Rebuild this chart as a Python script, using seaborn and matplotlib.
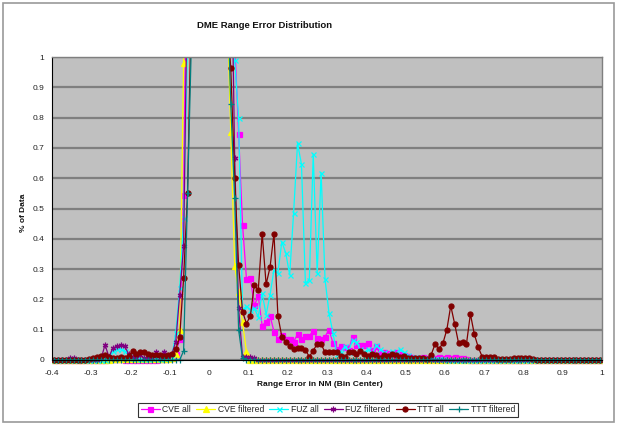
import numpy as np
import pandas as pd
import matplotlib
matplotlib.use("Agg")
import matplotlib.pyplot as plt
from matplotlib.ticker import MultipleLocator, FixedLocator
from matplotlib.transforms import Bbox, TransformedBbox
from matplotlib.patches import Rectangle
import seaborn as sns

# ---------------- data ----------------
# bin centres of the range-error histogram (NM): -0.395 ... 0.995, 0.01 wide
bin_centers = np.round(np.arange(-0.395, 1.0, 0.01), 3)

cve_all = [
    0, 0, 0, 0, 0, 0, 0, 0, 0, 0,
    0, 0, 0, 0, 0.003, 0.003, 0.003, 0.003, 0, 0,
    0, 0, 0, 0, 0, 0, 0, 0.003, 0.003, 0.005,
    0.008, 0.02, 0.07, 0.545, 1.6, 6.0, 12.0, 18.0, 22.0, 24.0,
    22.0, 17.0, 11.0, 6.5, 3.5, 2.2, 1.05, 0.745, 0.447, 0.268,
    0.27, 0.18, 0.21, 0.113, 0.127, 0.146, 0.094, 0.07, 0.083, 0.07,
    0.07, 0.06, 0.085, 0.068, 0.08, 0.08, 0.096, 0.073, 0.07, 0.077,
    0.1, 0.057, 0.037, 0.045, 0.043, 0.033, 0.077, 0.05, 0.05, 0.05,
    0.055, 0.033, 0.045, 0.022, 0.025, 0.022, 0.015, 0.027, 0.02, 0.015,
    0.012, 0.01, 0.008, 0.005, 0.01, 0.005, 0.003, 0.008, 0.01, 0.008,
    0.01, 0.008, 0.01, 0.006, 0.005, 0.003, 0, 0, 0, 0,
    0, 0, 0, 0, 0, 0, 0, 0, 0, 0,
    0, 0, 0, 0, 0, 0, 0, 0, 0, 0,
    0, 0, 0, 0, 0, 0, 0, 0, 0, 0,
]

cve_filtered = [
    0, 0, 0, 0, 0, 0, 0, 0, 0, 0,
    0, 0, 0, 0, 0, 0.002, 0.003, 0.003, 0.002, 0.002,
    0.002, 0.003, 0.003, 0.002, 0.002, 0.002, 0.002, 0.003, 0.003, 0.003,
    0.005, 0.02, 0.1, 0.98, 5.0, 11.0, 17.0, 21.0, 23.0, 24.0,
    22.0, 17.0, 10.0, 4.5, 1.2, 0.753, 0.31, 0.225, 0.124, 0.027,
    0, 0, 0, 0, 0, 0, 0, 0, 0, 0,
    0, 0, 0, 0, 0, 0, 0, 0, 0, 0,
    0, 0, 0, 0, 0, 0, 0, 0, 0, 0,
    0, 0, 0, 0, 0, 0, 0, 0, 0, 0,
    0, 0, 0, 0, 0, 0, 0, 0, 0, 0,
    0, 0, 0, 0, 0, 0, 0, 0, 0, 0,
    0, 0, 0, 0, 0, 0, 0, 0, 0, 0,
    0, 0, 0, 0, 0, 0, 0, 0, 0, 0,
    0, 0, 0, 0, 0, 0, 0, 0, 0, 0,
]

fuz_all = [
    0, 0, 0, 0, 0, 0, 0, 0, 0, 0,
    0, 0, 0, 0, 0.01, 0.03, 0.035, 0.035, 0.03, 0.015,
    0.005, 0.005, 0.003, 0.005, 0.003, 0.005, 0.005, 0.003, 0.005, 0.005,
    0.01, 0.088, 0.237, 0.467, 1.05, 5.5, 12.0, 18.0, 22.0, 23.0,
    21.0, 16.0, 10.0, 5.5, 3.5, 2.5, 0.99, 0.8, 0.166, 0.177,
    0.166, 0.17, 0.143, 0.22, 0.149, 0.215, 0.298, 0.287, 0.39, 0.353,
    0.281, 0.486, 0.715, 0.646, 0.254, 0.265, 0.679, 0.287, 0.618, 0.267,
    0.155, 0.09, 0.02, 0.027, 0.045, 0.027, 0.066, 0.06, 0.035, 0.025,
    0.035, 0.02, 0.05, 0.035, 0.025, 0.015, 0.03, 0.02, 0.035, 0.025,
    0.015, 0.01, 0.01, 0.005, 0.005, 0.005, 0.005, 0.003, 0.003, 0.003,
    0, 0, 0, 0, 0, 0, 0, 0, 0, 0,
    0, 0, 0, 0, 0, 0, 0, 0, 0, 0,
    0, 0, 0, 0, 0, 0, 0, 0, 0, 0,
    0, 0, 0, 0, 0, 0, 0, 0, 0, 0,
]

fuz_filtered = [
    0, 0, 0, 0, 0.008, 0.008, 0, 0, 0, 0,
    0, 0, 0.005, 0.05, 0.01, 0.04, 0.045, 0.05, 0.045, 0.02,
    0.01, 0.005, 0.015, 0.005, 0.008, 0.005, 0.027, 0.005, 0.027, 0.01,
    0.02, 0.06, 0.215, 0.375, 1.3, 6.0, 13.0, 19.0, 23.0, 24.0,
    21.0, 16.0, 10.0, 5.0, 2.8, 1.5, 0.668, 0.17, 0.01, 0.01,
    0.01, 0.005, 0, 0, 0, 0, 0, 0, 0, 0,
    0, 0, 0, 0, 0, 0, 0, 0, 0, 0,
    0, 0, 0, 0, 0, 0, 0, 0, 0, 0,
    0, 0, 0, 0, 0, 0, 0, 0, 0, 0,
    0, 0, 0, 0, 0, 0, 0, 0, 0, 0,
    0, 0, 0, 0, 0, 0, 0, 0, 0, 0,
    0, 0, 0, 0, 0, 0, 0, 0, 0, 0,
    0, 0, 0, 0, 0, 0, 0, 0, 0, 0,
    0, 0, 0, 0, 0, 0, 0, 0, 0, 0,
]

ttt_all = [
    0, 0, 0, 0, 0, 0, 0, 0, 0, 0.002,
    0.005, 0.01, 0.012, 0.015, 0.01, 0.008, 0.008, 0.01, 0.008, 0.012,
    0.03, 0.02, 0.025, 0.025, 0.02, 0.018, 0.015, 0.015, 0.012, 0.015,
    0.02, 0.035, 0.075, 0.27, 0.55, 1.2, 4.0, 9.0, 14.0, 17.0,
    16.0, 12.0, 7.0, 3.0, 1.15, 0.963, 0.6, 0.313, 0.16, 0.12,
    0.146, 0.248, 0.23, 0.417, 0.25, 0.306, 0.417, 0.146, 0.077, 0.058,
    0.047, 0.035, 0.039, 0.041, 0.033, 0.011, 0.031, 0.053, 0.053, 0.025,
    0.025, 0.025, 0.025, 0.012, 0.01, 0.025, 0.027, 0.02, 0.03, 0.02,
    0.012, 0.02, 0.015, 0.008, 0.018, 0.012, 0.02, 0.015, 0.01, 0.012,
    0.008, 0.005, 0.008, 0.005, 0.005, 0.003, 0.017, 0.052, 0.037, 0.055,
    0.1, 0.179, 0.119, 0.055, 0.061, 0.053, 0.152, 0.085, 0.042, 0.011,
    0.011, 0.011, 0.011, 0.002, 0.002, 0.002, 0.002, 0.006, 0.007, 0.007,
    0.006, 0.006, 0.003, 0, 0, 0, 0, 0, 0, 0,
    0, 0, 0, 0, 0, 0, 0, 0, 0, 0,
]

ttt_filtered = [
    0, 0, 0, 0, 0, 0, 0, 0, 0, 0,
    0, 0, 0, 0, 0, 0, 0, 0, 0, 0,
    0, 0, 0, 0, 0, 0, 0, 0, 0, 0,
    0, 0, 0, 0.03, 0.55, 1.06, 5.0, 11.0, 17.0, 21.0,
    20.0, 15.0, 8.0, 3.5, 1.27, 0.845, 0.535, 0.1, 0.005, 0,
    0, 0, 0, 0, 0, 0, 0, 0, 0, 0,
    0, 0, 0, 0, 0, 0, 0, 0, 0, 0,
    0, 0, 0, 0, 0, 0, 0, 0, 0, 0,
    0, 0, 0, 0, 0, 0, 0, 0, 0, 0,
    0, 0, 0, 0, 0, 0, 0, 0, 0, 0,
    0, 0, 0, 0, 0, 0, 0, 0, 0, 0,
    0, 0, 0, 0, 0, 0, 0, 0, 0, 0,
    0, 0, 0, 0, 0, 0, 0, 0, 0, 0,
    0, 0, 0, 0, 0, 0, 0, 0, 0, 0,
]

series_names = ["CVE all", "CVE filtered", "FUZ all", "FUZ filtered", "TTT all", "TTT filtered"]
series_values = [cve_all, cve_filtered, fuz_all, fuz_filtered, ttt_all, ttt_filtered]

x_tick_values = [-0.4, -0.3, -0.2, -0.1, 0.0, 0.1, 0.2, 0.3, 0.4, 0.5, 0.6, 0.7, 0.8, 0.9, 1.0]
x_tick_labels = ["-0.4", "-0.3", "-0.2", "-0.1", "0", "0.1", "0.2", "0.3", "0.4",
                 "0.5", "0.6", "0.7", "0.8", "0.9", "1"]
y_tick_values = [0.0, 0.1, 0.2, 0.3, 0.4, 0.5, 0.6, 0.7, 0.8, 0.9, 1.0]
y_tick_labels = ["0", "0.1", "0.2", "0.3", "0.4", "0.5", "0.6", "0.7", "0.8", "0.9", "1"]

title_text = "DME Range Error Distribution"
x_label = "Range Error in NM (Bin Center)"
y_label = "% of Data"

# ---------------- style ----------------
sns.set_style("white")
plt.rcParams['font.family'] = ['Liberation Sans', 'DejaVu Sans']

styles = {
    "CVE all":      dict(color="#FF00FF", marker="s", ms=3.6),
    "CVE filtered": dict(color="#FFFF00", marker="^", ms=3.8),
    "FUZ all":      dict(color="#00FFFF", marker="x", ms=3.6),
    "FUZ filtered": dict(color="#800080", marker=(6, 2, 0), ms=4.0),
    "TTT all":      dict(color="#800000", marker="o", ms=3.6),
    "TTT filtered": dict(color="#008080", marker="+", ms=4.2),
}

fig = plt.figure(figsize=(6.18, 4.25), dpi=100)
fig.patch.set_facecolor("white")
ax = fig.add_axes([52 / 618, 1 - 360 / 425, 550 / 618, 303 / 425])
ax.set_facecolor("#C0C0C0")

clip = TransformedBbox(Bbox([[0.0, -0.03], [1.0, 1.0]]), ax.transAxes)

for name, vals in zip(series_names, series_values):
    df = pd.DataFrame({"x": bin_centers, "y": vals})
    st = styles[name]
    n_before = len(ax.lines)
    sns.lineplot(data=df, x="x", y="y", ax=ax, color=st["color"], marker=st["marker"],
                 markersize=st["ms"], markeredgecolor=st["color"], markerfacecolor=st["color"],
                 markeredgewidth=0.9, linewidth=0.9, label=name, legend=False)
    for ln in ax.lines[n_before:]:
        ln.set_clip_box(clip)

ax.set_xlim(-0.4, 1.0)
ax.set_ylim(0, 1)
ax.xaxis.set_major_locator(FixedLocator(x_tick_values))
ax.set_xticklabels(x_tick_labels)
ax.yaxis.set_major_locator(FixedLocator(y_tick_values))
ax.set_yticklabels(y_tick_labels)
ax.xaxis.set_minor_locator(MultipleLocator(0.02))
ax.yaxis.set_minor_locator(MultipleLocator(0.01))

ax.yaxis.grid(True, which="major", color="#7F7F7F", linewidth=1.6)
ax.xaxis.grid(False)
ax.set_axisbelow(True)

for s in ["left", "bottom"]:
    ax.spines[s].set_color("black")
    ax.spines[s].set_linewidth(0.8)
for s in ["top", "right"]:
    ax.spines[s].set_color("#7F7F7F")
    ax.spines[s].set_linewidth(1.0)

ax.tick_params(axis="both", which="major", direction="inout", length=5, width=0.7,
               color="black", labelsize=6, labelcolor="#222222")
ax.tick_params(axis="both", which="minor", direction="inout", length=3, width=0.6, color="black")
ax.tick_params(axis="x", which="major", pad=5)
ax.tick_params(axis="y", which="major", pad=3)
ax.set_xlabel("")
ax.set_ylabel("")

fig.text(265 / 618, 1 - 25 / 425, title_text, ha="center", va="center",
         fontsize=6.8, fontweight="bold", color="#111111")
fig.text(320 / 618, 1 - 384 / 425, x_label, ha="center", va="center",
         fontsize=6, fontweight="bold", color="#111111")
fig.text(24 / 618, 1 - 213 / 425, y_label, ha="center", va="center", rotation=90,
         fontsize=6, fontweight="bold", color="#111111")

handles, labels = ax.get_legend_handles_labels()
leg = fig.legend(handles, labels, loc="center", bbox_to_anchor=(328 / 618, 1 - 410 / 425),
                 ncol=6, fontsize=6.2, frameon=True, fancybox=False, handlelength=2.2,
                 handletextpad=0.3, columnspacing=0.6, borderpad=0.3, borderaxespad=0)
leg.get_frame().set_edgecolor("black")
leg.get_frame().set_linewidth(0.8)

fig.add_artist(Rectangle((3 / 618, 3 / 425), 611 / 618, 419 / 425, transform=fig.transFigure,
                         fill=False, edgecolor="#999999", linewidth=1.2))

fig.savefig("out.png", dpi=100, facecolor="white")
